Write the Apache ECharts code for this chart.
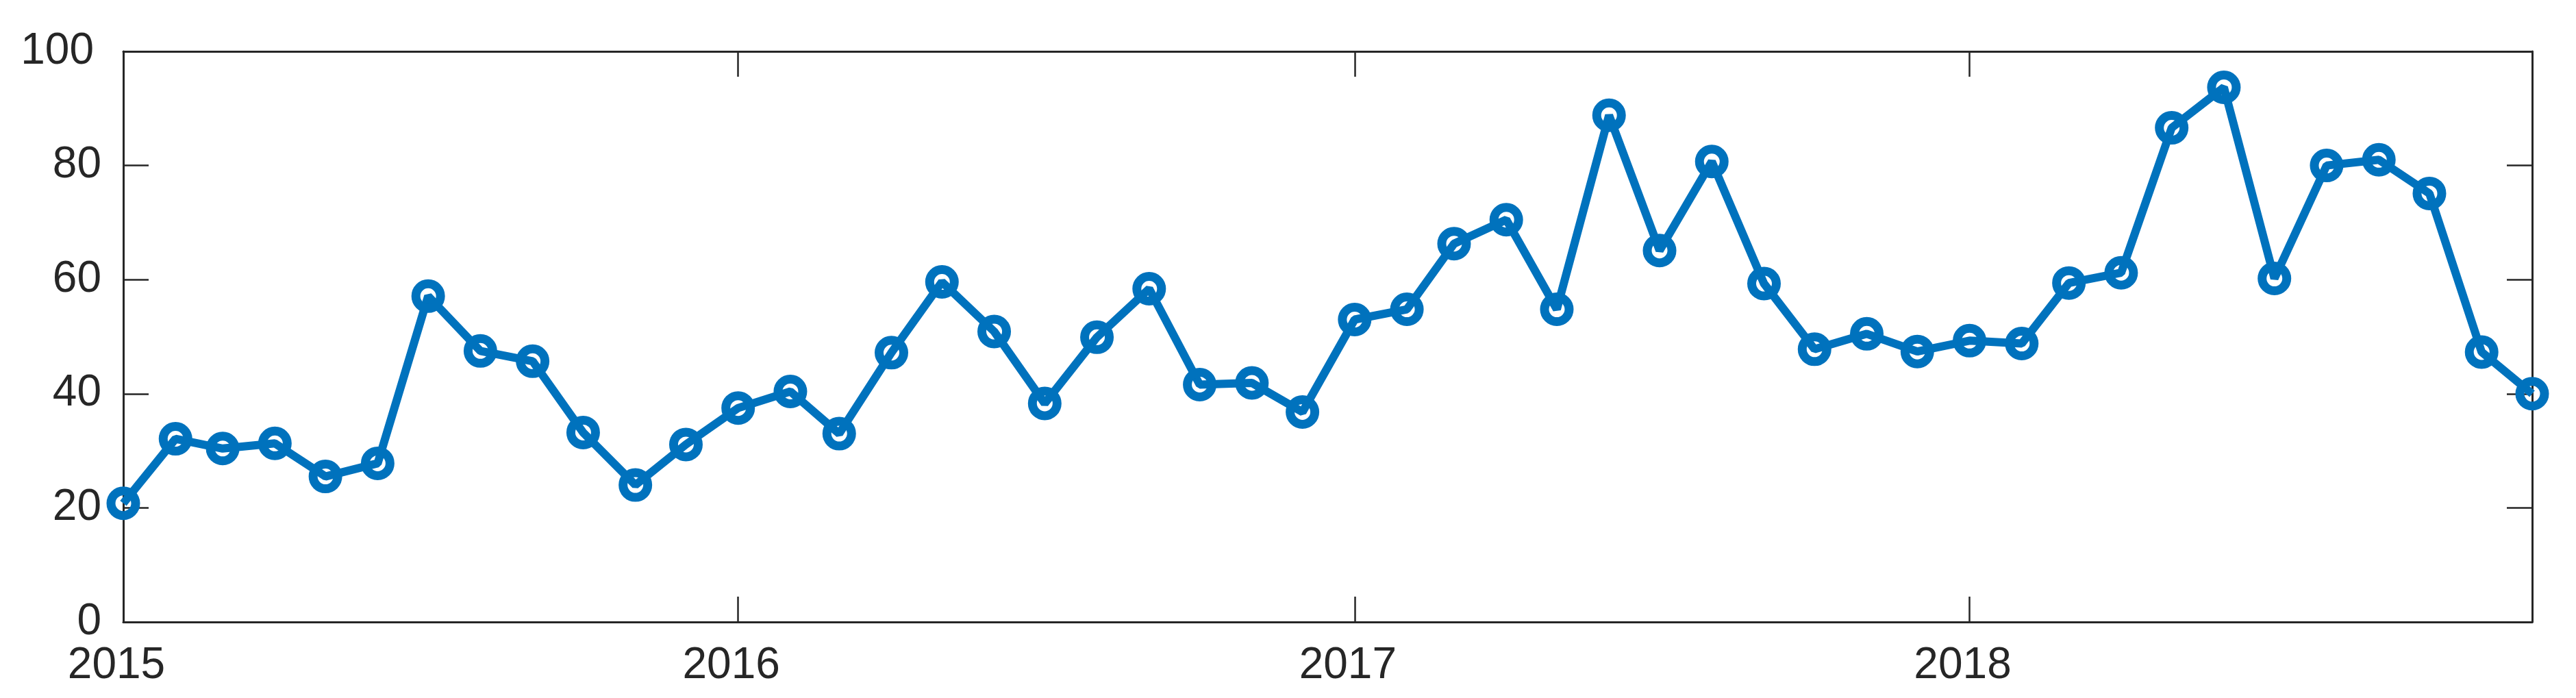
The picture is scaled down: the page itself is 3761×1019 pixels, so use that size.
<!DOCTYPE html>
<html>
<head>
  <meta charset="UTF-8">
  <title>Monthly values 2015-2018</title>
  <script src="https://cdn.jsdelivr.net/npm/echarts@6/dist/echarts.min.js"></script>
  <style>
    html, body { margin: 0; padding: 0; background: #fff; }
    #main { width: 3761px; height: 1019px; }
  </style>
</head>
<body>
  <div id="main"></div>
  <script>
    // monthly values, Jan 2015 .. Dec 2018
    var startYear = 2015;
    var values = [
      20.8, 32.1, 30.4, 31.3, 25.5, 27.8, 57.1, 47.5, 45.7, 33.2, 24.0, 31.1,
      37.5, 40.4, 33.0, 47.2, 59.6, 50.9, 38.3, 49.9, 58.4, 41.6, 41.9, 36.8,
      53.0, 54.8, 66.3, 70.5, 54.8, 88.8, 65.1, 80.7, 59.3, 47.8, 50.5, 47.4,
      49.3, 48.8, 59.4, 61.2, 86.6, 93.7, 60.2, 80.0, 81.0, 75.1, 47.3, 40.0
    ];
    var yearTicks = [2015, 2016, 2017, 2018];
    var yTicks = [0, 20, 40, 60, 80, 100];

    var axisColor = '#262626';
    var lineColor = '#0072BD';
    var fontFamily = '"Liberation Sans", Helvetica, Arial, sans-serif';

    // points as [timestamp, value]
    var points = values.map(function (v, i) {
      return [Date.UTC(startYear, i, 1), v];
    });
    var xMin = points[0][0];
    var xMax = points[points.length - 1][0];
    var yearStamps = yearTicks.map(function (y) { return Date.UTC(y, 0, 1); });

    function xAxisCfg(pos, showLabels) {
      return {
        type: 'value',
        position: pos,
        min: xMin,
        max: xMax,
        splitLine: { show: false },
        axisLine: { show: true, onZero: false, lineStyle: { color: axisColor, width: 3 } },
        axisTick: {
          show: true, inside: true, length: 37,
          customValues: yearStamps,
          lineStyle: { color: axisColor, width: 2.5 }
        },
        axisLabel: {
          show: showLabels,
          customValues: yearStamps,
          margin: 32,
          color: axisColor,
          fontSize: 64,
          fontFamily: fontFamily,
          // labels sit a little left of their ticks in the original
          padding: [0, 20, 0, 0],
          formatter: function (v) { return String(new Date(v).getUTCFullYear()); }
        }
      };
    }

    function yAxisCfg(pos, showLabels) {
      return {
        type: 'value',
        position: pos,
        min: yTicks[0],
        max: yTicks[yTicks.length - 1],
        interval: yTicks[1] - yTicks[0],
        splitLine: { show: false },
        axisLine: { show: true, onZero: false, lineStyle: { color: axisColor, width: 3 } },
        axisTick: { show: true, inside: true, length: 37, lineStyle: { color: axisColor, width: 2.5 } },
        axisLabel: {
          show: showLabels,
          margin: 32,
          color: axisColor,
          fontSize: 64,
          fontFamily: fontFamily,
          formatter: function (v) { return v === 100 ? '{top|' + v + '}' : String(v); },
          rich: {
            top: { fontSize: 64, fontFamily: fontFamily, color: axisColor, padding: [0, 11, 0, 0] }
          }
        }
      };
    }

    var myChart = echarts.init(document.getElementById('main'));
    var option = {
      backgroundColor: '#ffffff',
      animation: false,
      grid: { left: 180, right: 64, top: 75, bottom: 111, containLabel: false },
      xAxis: [xAxisCfg('bottom', true), xAxisCfg('top', false)],
      yAxis: [yAxisCfg('left', true), yAxisCfg('right', false)],
      series: [
        {
          type: 'line',
          data: points,
          xAxisIndex: 0,
          yAxisIndex: 0,
          symbol: 'circle',
          symbolSize: 36,
          showAllSymbol: true,
          clip: false,
          lineStyle: { color: lineColor, width: 12 },
          itemStyle: { color: 'rgba(0,0,0,0)', borderColor: lineColor, borderWidth: 13 }
        }
      ]
    };
    myChart.setOption(option);
  </script>
</body>
</html>
